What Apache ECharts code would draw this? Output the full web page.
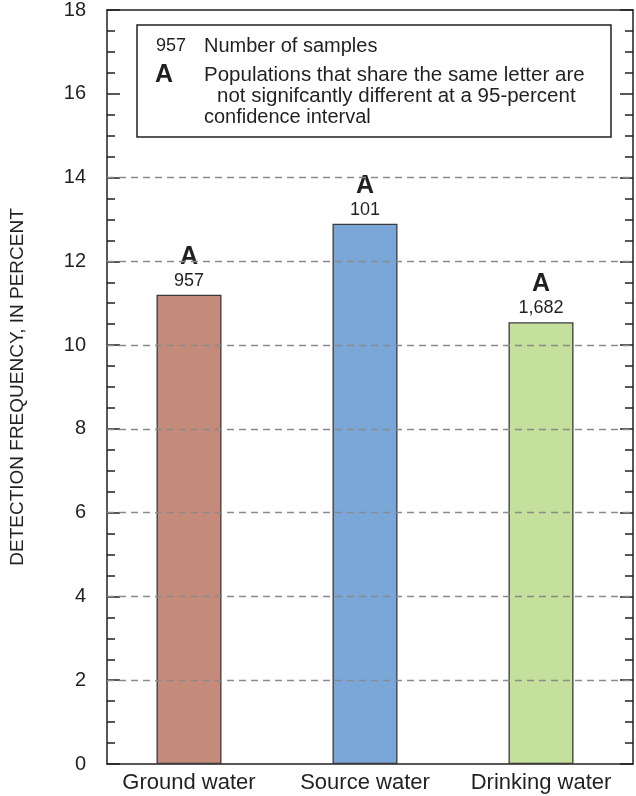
<!DOCTYPE html>
<html>
<head>
<meta charset="utf-8">
<script src="https://cdn.jsdelivr.net/npm/echarts@6/dist/echarts.min.js"></script>
<style>
  html, body { margin: 0; padding: 0; background: #fff; }
  #chart { width: 636px; height: 796px; }
</style>
</head>
<body>
<div id="chart"></div>
<script>
// ---- data ----
const categories = ['Ground water', 'Source water', 'Drinking water'];
const detectionFrequency = [11.19, 12.88, 10.53];
const sampleCounts = ['957', '101', '1,682'];
const groupLetters = ['A', 'A', 'A'];
const gridLineValues = [2, 4, 6, 8, 10, 12, 14];
const yMin = 0, yMax = 18, yStep = 2;
const yAxisTitle = 'DETECTION FREQUENCY, IN PERCENT';
const legendCountExample = '957';
const legendCountText = 'Number of samples';
const legendLetterExample = 'A';
const legendLetterLines = [
  'Populations that share the same letter are',
  'not signifcantly different at a 95-percent',
  'confidence interval'
];

// ---- styles ----
const barColors = ['#C48B7B', '#7BA6D8', '#C5DF9D'];
const ink = '#231f20';
const FONT = "'Liberation Sans', Arial, Helvetica, sans-serif";

const chart = echarts.init(document.getElementById('chart'), null, { renderer: 'canvas' });

const frameY = {
  type: 'value', min: yMin, max: yMax, interval: yStep,
  axisLine: { show: true, onZero: false, lineStyle: { color: ink, width: 1.5 } },
  axisTick: { show: true, inside: true, length: 13, lineStyle: { color: ink, width: 1.5 } },
  minorTick: { show: true, splitNumber: 4, length: 8, lineStyle: { color: ink, width: 1.5 } },
  splitLine: { show: false }
};

const option = {
  animation: false,
  backgroundColor: '#fff',
  grid: [
    { left: 105, right: 3, top: 9, bottom: 32 },
    { left: 101, right: 7, top: 9, bottom: 32 }
  ],
  xAxis: [
    { gridIndex: 0, type: 'value', min: 0, max: 1, position: 'bottom',
      axisLine: { show: true, onZero: false, lineStyle: { color: ink, width: 1.5 } },
      axisTick: { show: false }, axisLabel: { show: false }, splitLine: { show: false } },
    { gridIndex: 0, type: 'value', min: 0, max: 1, position: 'top',
      axisLine: { show: true, onZero: false, lineStyle: { color: ink, width: 1.5 } },
      axisTick: { show: false }, axisLabel: { show: false }, splitLine: { show: false } },
    { gridIndex: 1, type: 'category', data: categories,
      axisLine: { show: false }, axisTick: { show: false },
      axisLabel: { color: ink, fontSize: 22, fontFamily: FONT, margin: 8, interval: 0, hideOverlap: false } }
  ],
  yAxis: [
    Object.assign({}, frameY, {
      gridIndex: 0, position: 'left',
      axisLabel: { show: true, color: ink, fontSize: 20, fontFamily: FONT, margin: 21 },
      name: yAxisTitle, nameLocation: 'middle', nameGap: 80,
      nameTextStyle: { color: ink, fontSize: 19, fontFamily: FONT }
    }),
    Object.assign({}, frameY, {
      gridIndex: 0, position: 'right',
      axisLabel: { show: false }
    }),
    { gridIndex: 1, type: 'value', min: yMin, max: yMax, interval: yStep, show: false }
  ],
  series: [
    {
      type: 'line', xAxisIndex: 0, yAxisIndex: 0, data: [], silent: true, z: 1,
      markLine: {
        silent: true, symbol: 'none', animation: false,
        label: { show: false },
        lineStyle: { color: '#8a8a8a', type: [7, 5], width: 1.4 },
        data: gridLineValues.map(v => ({ yAxis: v }))
      }
    },
    {
      type: 'bar', xAxisIndex: 2, yAxisIndex: 2, z: 3, barWidth: 65,
      data: detectionFrequency.map((v, i) => ({
        value: v,
        itemStyle: { color: barColors[i] }
      })),
      itemStyle: { borderColor: '#3a3a3a', borderWidth: 1.3 },
      label: {
        show: true, position: 'top', distance: 3,
        formatter: p => '{a|' + groupLetters[p.dataIndex] + '}\n{n|' + sampleCounts[p.dataIndex] + '}',
        rich: {
          a: { fontSize: 25, fontWeight: 'bold', color: ink, fontFamily: FONT, lineHeight: 26, align: 'center' },
          n: { fontSize: 18, color: ink, fontFamily: FONT, lineHeight: 22, align: 'center' }
        }
      }
    }
  ],
  graphic: [
    { type: 'rect', z: 10, shape: { x: 137, y: 25, width: 474, height: 112 },
      style: { fill: '#fff', stroke: ink, lineWidth: 1.5 } },
    { type: 'text', z: 11, x: 156, y: 46,
      style: { text: legendCountExample, font: '18px ' + FONT, fill: ink, verticalAlign: 'middle', textVerticalAlign: 'middle' } },
    { type: 'text', z: 11, x: 204, y: 46,
      style: { text: legendCountText, font: '20px ' + FONT, fill: ink, verticalAlign: 'middle', textVerticalAlign: 'middle' } },
    { type: 'text', z: 11, x: 164, y: 75,
      style: { text: legendLetterExample, font: 'bold 25px ' + FONT, fill: ink, align: 'center', textAlign: 'center', verticalAlign: 'middle', textVerticalAlign: 'middle' } },
    { type: 'text', z: 11, x: 204, y: 75,
      style: { text: legendLetterLines[0], font: '20.5px ' + FONT, fill: ink, verticalAlign: 'middle', textVerticalAlign: 'middle' } },
    { type: 'text', z: 11, x: 217, y: 96,
      style: { text: legendLetterLines[1], font: '20.5px ' + FONT, fill: ink, verticalAlign: 'middle', textVerticalAlign: 'middle' } },
    { type: 'text', z: 11, x: 204, y: 117,
      style: { text: legendLetterLines[2], font: '20px ' + FONT, fill: ink, verticalAlign: 'middle', textVerticalAlign: 'middle' } }
  ]
};

chart.setOption(option);
</script>
</body>
</html>
